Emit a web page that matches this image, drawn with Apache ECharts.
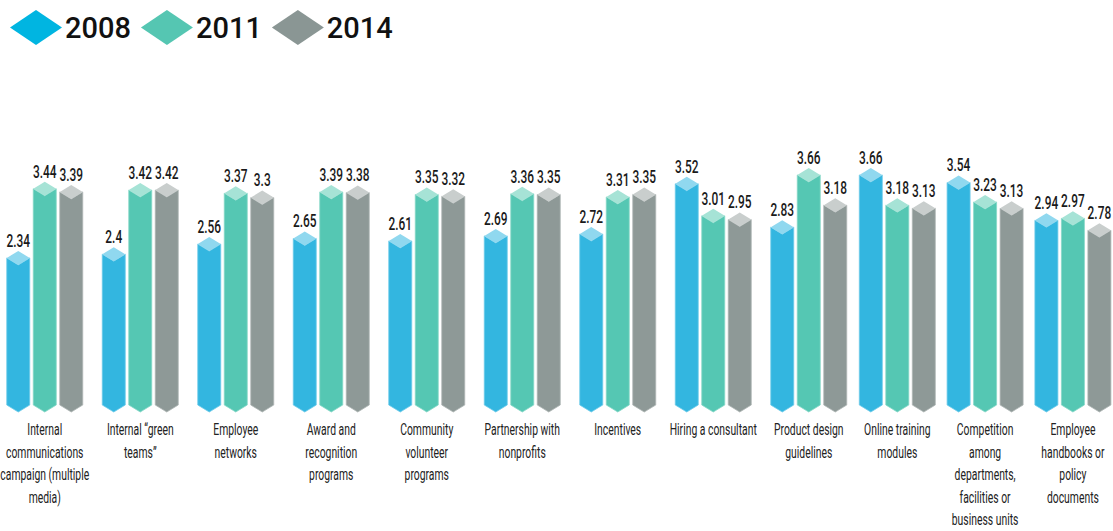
<!DOCTYPE html>
<html>
<head>
<meta charset="utf-8">
<script src="https://cdn.jsdelivr.net/npm/echarts@6/dist/echarts.min.js"></script>
<style>
  html, body { margin: 0; padding: 0; background: #ffffff; }
  #chart { width: 1113px; height: 531px; }
</style>
</head>
<body>
<div id="chart"></div>
<script>
// Engagement tactics, average rating by survey year
const categories = [
  'Internal\ncommunications\ncampaign (multiple\nmedia)',
  'Internal \u201cgreen\nteams\u201d',
  'Employee\nnetworks',
  'Award and\nrecognition\nprograms',
  'Community\nvolunteer\nprograms',
  'Partnership with\nnonprofits',
  'Incentives',
  'Hiring a consultant',
  'Product design\nguidelines',
  'Online training\nmodules',
  'Competition\namong\ndepartments,\nfacilities or\nbusiness units',
  'Employee\nhandbooks or\npolicy\ndocuments'
];
const years = ['2008', '2011', '2014'];
const values2008 = [2.34, 2.4, 2.56, 2.65, 2.61, 2.69, 2.72, 3.52, 2.83, 3.66, 3.54, 2.94];
const values2011 = [3.44, 3.42, 3.37, 3.39, 3.35, 3.36, 3.31, 3.01, 3.66, 3.18, 3.23, 2.97];
const values2014 = [3.39, 3.42, 3.3, 3.38, 3.32, 3.35, 3.35, 2.95, 3.18, 3.13, 3.13, 2.78];

const seriesValues = [values2008, values2011, values2014];
const bodyColors = ['#33b6e0', '#55c7b3', '#8e9997'];
const edgeColors = ['#6fcbea', '#86d8c8', '#aeb6b5'];
const capColors = ['#90d8ef', '#a6e3d6', '#c9cecd'];
const legendColors = ['#00b5e1', '#55c6b2', '#8a9694'];

const FONT = "Roboto, 'Noto Sans', sans-serif";
const BAR_W = 23;     // prism width
const STEP = 26.5;    // distance between neighbouring prisms in a group
const HALF_CAP = 7;   // half height of the diamond cap / bottom point

// The groups sit in two blocks: the first nine are spaced wider than the last three
const SPLIT = 9;
const blocks = [
  { from: 0, to: SPLIT, left: -3, width: 859.5 },
  { from: SPLIT, to: categories.length, left: 853.4, width: 263.4 }
];

// One prism: body with a pointed foot, a light diamond cap and its value above
function prismRenderer(seriesIdx) {
  return function (params, api) {
    const cat = api.value(0);
    const val = api.value(1);
    const top = api.coord([cat, val]);
    const base = api.coord([cat, 0]);
    const cx = top[0] + (seriesIdx - 1) * STEP;
    const l = cx - BAR_W / 2;
    const r = cx + BAR_W / 2;
    const yt = top[1];
    const yb = base[1];
    return {
      type: 'group',
      children: [
        {
          type: 'polygon',
          shape: { points: [[l, yt], [cx, yt + HALF_CAP], [r, yt], [r, yb], [cx, yb + HALF_CAP], [l, yb]] },
          style: { fill: bodyColors[seriesIdx], stroke: edgeColors[seriesIdx], lineWidth: 0.8 }
        },
        {
          type: 'polygon',
          shape: { points: [[l, yt], [cx, yt - HALF_CAP], [r, yt], [cx, yt + HALF_CAP]] },
          style: { fill: capColors[seriesIdx] }
        },
        {
          type: 'text',
          x: cx,
          y: yt - HALF_CAP - 1,
          scaleX: 0.66,
          style: {
            text: String(val),
            fill: '#1a1a1a',
            font: '500 18px ' + FONT,
            align: 'center',
            verticalAlign: 'bottom'
          }
        }
      ]
    };
  };
}

// Category names under each group, in condensed lettering
function categoryLabelRenderer(offset) {
  return function (params, api) {
    const cat = api.value(0);
    const p = api.coord([cat, 0]);
    return {
      type: 'text',
      x: p[0],
      y: p[1] + 13,
      scaleX: 0.61,
      style: {
        text: categories[offset + cat],
        fill: '#222222',
        font: '17px ' + FONT,
        lineHeight: 22.5,
        align: 'center',
        verticalAlign: 'top'
      }
    };
  };
}

const series = [];
blocks.forEach((b, bi) => {
  years.forEach((y, i) => {
    series.push({
      name: y,
      type: 'custom',
      xAxisIndex: bi,
      yAxisIndex: bi,
      clip: false,
      itemStyle: { color: legendColors[i] },
      encode: { x: 0, y: 1 },
      data: seriesValues[i].slice(b.from, b.to).map((v, k) => [k, v]),
      renderItem: prismRenderer(i)
    });
  });
  series.push({
    name: 'categoryNames' + bi,
    type: 'custom',
    xAxisIndex: bi,
    yAxisIndex: bi,
    clip: false,
    silent: true,
    encode: { x: 0, y: 1 },
    data: categories.slice(b.from, b.to).map((c, k) => [k, 0]),
    renderItem: categoryLabelRenderer(b.from)
  });
});

const chart = echarts.init(document.getElementById('chart'), null, { renderer: 'svg' });

chart.setOption({
  animation: false,
  backgroundColor: '#ffffff',
  legend: {
    left: 5,
    top: 5,
    itemWidth: 52,
    itemHeight: 35,
    itemGap: 10,
    icon: 'diamond',
    textStyle: { fontFamily: FONT, fontSize: 29, fontWeight: 500, color: '#111111', padding: [0, 0, 0, -2] },
    data: years.map((y, i) => ({ name: y, itemStyle: { color: legendColors[i] } }))
  },
  grid: blocks.map(b => ({
    left: b.left, width: b.width, top: 153.6, bottom: 126,
    containLabel: false, outerBoundsMode: 'none'
  })),
  xAxis: blocks.map((b, bi) => ({
    type: 'category',
    gridIndex: bi,
    data: categories.slice(b.from, b.to),
    axisLine: { show: false },
    axisTick: { show: false },
    axisLabel: { show: false }
  })),
  yAxis: blocks.map((b, bi) => ({
    type: 'value', gridIndex: bi, min: 0, max: 4, show: false, splitLine: { show: false }
  })),
  series: series
});
</script>
</body>
</html>
